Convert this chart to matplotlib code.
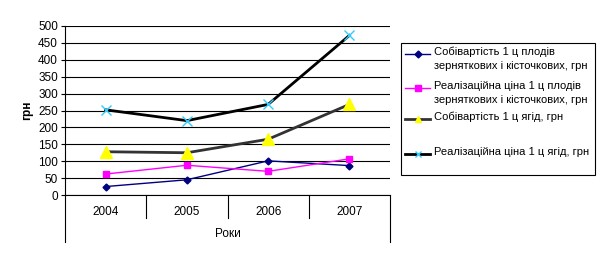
import matplotlib
matplotlib.use("Agg")
from matplotlib import pyplot as plt
from matplotlib.lines import Line2D
from matplotlib.patches import Rectangle
from matplotlib.transforms import blended_transform_factory

plt.rcParams['font.family'] = ['Liberation Sans', 'DejaVu Sans']

years = ["2004", "2005", "2006", "2007"]
sobivart_plody = [25, 45, 101, 87]
cina_plody = [62, 88, 70, 107]
sobivart_yagody = [128, 125, 165, 268]
cina_yagody = [252, 220, 268, 472]

labels = ["Собівартість 1 ц плодів\nзерняткових і кісточкових, грн",
          "Реалізаційна ціна 1 ц плодів\nзерняткових і кісточкових, грн",
          "Собівартість 1 ц ягід, грн",
          "Реалізаційна ціна 1 ц ягід, грн"]

W, H = 605, 262
fig = plt.figure(figsize=(W / 100, H / 100), dpi=100)
ax = fig.add_axes([65/W, 1 - 195/H, (390 - 65)/W, (195 - 26)/H])

styles = [
    dict(color="#000080", lw=1, marker="D", ms=3.5, mfc="#000080", mec="#000080"),
    dict(color="#FF00FF", lw=1, marker="s", ms=4.5, mfc="#FF00FF", mec="#FF00FF"),
    dict(color="#333333", lw=2, marker="^", ms=8, mfc="#FFFF00", mec="#FFFF00"),
    dict(color="#000000", lw=2, marker="x", ms=7, mec="#33CCFF", mew=1),
]
series = [sobivart_plody, cina_plody, sobivart_yagody, cina_yagody]

x = range(len(years))
for vals, st in zip(series, styles):
    ax.plot(x, vals, **st)

ax.set_xlim(-0.5, 3.5)
ax.set_ylim(0, 500)
ax.set_yticks(range(0, 501, 50))
ax.tick_params(axis="y", labelsize=8.5, length=3, width=0.8, pad=2)
ax.grid(axis="y", color="black", lw=0.8)
ax.set_axisbelow(True)
for s in ["top", "right"]:
    ax.spines[s].set_visible(False)
ax.spines["left"].set_linewidth(0.8)
ax.spines["bottom"].set_linewidth(0.8)
ax.set_xticks([])
ax.set_ylabel("грн", fontsize=8.5, fontweight="bold", labelpad=4)

# category boxes below axis
tr = blended_transform_factory(ax.transData, ax.transAxes)
px = 1 / 169  # axes fraction per pixel
for i, yr in enumerate(years):
    ax.text(i, -17 * px, yr, transform=tr, ha="center", va="center", fontsize=8.5)
for b in [0.5, 1.5, 2.5]:
    ax.plot([b, b], [0, -23 * px], transform=tr, color="black", lw=0.8, clip_on=False)
for b in [-0.5, 3.5]:
    ax.plot([b, b], [0, -47 * px], transform=tr, color="black", lw=0.8, clip_on=False)
ax.text(1.5, -39 * px, "Роки", transform=tr, ha="center", va="center", fontsize=8.5)

# legend drawn by hand (Excel-style: handle aligned with first text line)
fig.patches.append(Rectangle((401/W, 1 - 175/H), 194/W, 132/H, transform=fig.transFigure,
                             fill=False, edgecolor="black", lw=0.8))
rows = [54, 88, 119, 154]
leg_ms = [3.5, 4.5, 5, 5]
for lab, st, y, ms in zip(labels, styles, rows, leg_ms):
    st = dict(st, ms=ms)
    fig.lines.append(Line2D([405/W, 430/W], [1 - y/H] * 2, transform=fig.transFigure,
                            markevery=[], **st))
    fig.lines.append(Line2D([417.5/W], [1 - y/H], transform=fig.transFigure,
                            **dict(st, lw=0)))
    fig.text(434/W, 1 - (y - 7)/H, lab, fontsize=8, va="top", ha="left", linespacing=1.45)

fig.savefig("out.png", dpi=100)
